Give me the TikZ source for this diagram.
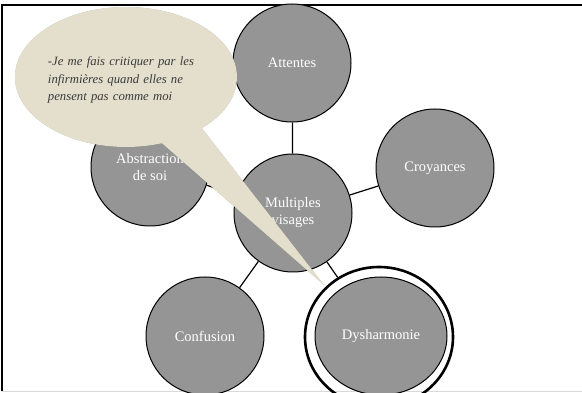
\documentclass[tikz,border=0pt]{standalone}
\usepackage{fontspec}
\setmainfont{Liberation Serif}
\usepackage{tikz}
\usetikzlibrary{positioning,calc,shapes.geometric}
\definecolor{disc}{HTML}{959595}
\definecolor{parch}{HTML}{E3DFCC}
\definecolor{quote}{HTML}{3A3A3A}
\definecolor{frame}{HTML}{D9D9D9}

\begin{document}
\begin{tikzpicture}[x=1pt,y=-1pt,
  circ/.style={circle,draw=black,line width=1pt,fill=disc,minimum size=118pt,
               inner sep=0pt,align=center,text=white,
               font=\fontsize{14.5}{17}\selectfont},
  link/.style={draw=black,line width=1.2pt},
  bubble/.style={ellipse,fill=parch,minimum width=222pt,minimum height=140pt,
                 inner sep=0pt,align=left,text=quote,
                 font=\fontsize{12.7}{17.5}\selectfont\itshape},
  shade/.style={fill=black,opacity=.3}
]
\useasboundingbox (0,0) rectangle (582,393);

% frame of the slide
\draw[frame,line width=1pt] (2,391) -- (582,391);
\draw[black,line width=2pt] (2,391) -- (2,5) -- (582,5);

% the six discs
\node[circ] (mult) at (293,213) {Multiples\\visages};
\node[circ] (att)  at (292,63)  {Attentes};
\node[circ] (croy) at (435,168) {Croyances};
\node[circ] (abs)  at (150,167) {Abstraction\\de soi};
\node[circ] (conf) at (205,336) {Confusion};
\node[circ,ellipse,minimum width=132pt,minimum height=118pt] (dys) at (381,336) {Dysharmonie};
\node[ellipse,draw=black,line width=2.6pt,minimum width=148pt,minimum height=140pt,
      inner sep=0pt] (ring) at (379,337) {};

\draw[link] (mult) -- (att);
\draw[link] (mult) -- (croy);
\draw[link] (mult) -- (abs);
\draw[link] (mult) -- (conf);
\draw[link] (mult) -- (ring);

% speech bubble
\node[bubble,fill=none] (bub) at (126,77) {};
\coordinate (tip) at (324,285);
\coordinate (b1) at ($(bub.center)!.94!(bub.-33)$);
\coordinate (b2) at ($(bub.center)!.94!(bub.-63)$);
\begin{scope}[shift={(1.5,2)}]
  \fill[shade] (bub.center) ellipse [x radius=111pt,y radius=70pt];
  \fill[shade] (b1) -- (tip) -- (b2) -- cycle;
\end{scope}
\fill[parch] (bub.center) ellipse [x radius=111pt,y radius=70pt];
\fill[parch] (b1) -- (tip) -- (b2) -- cycle;
\node[bubble,fill=none,text width=170pt] (say) at (133,80)
  {-Je me fais critiquer par les\\infirmières quand elles ne\\pensent pas comme moi};
\end{tikzpicture}
\end{document}
